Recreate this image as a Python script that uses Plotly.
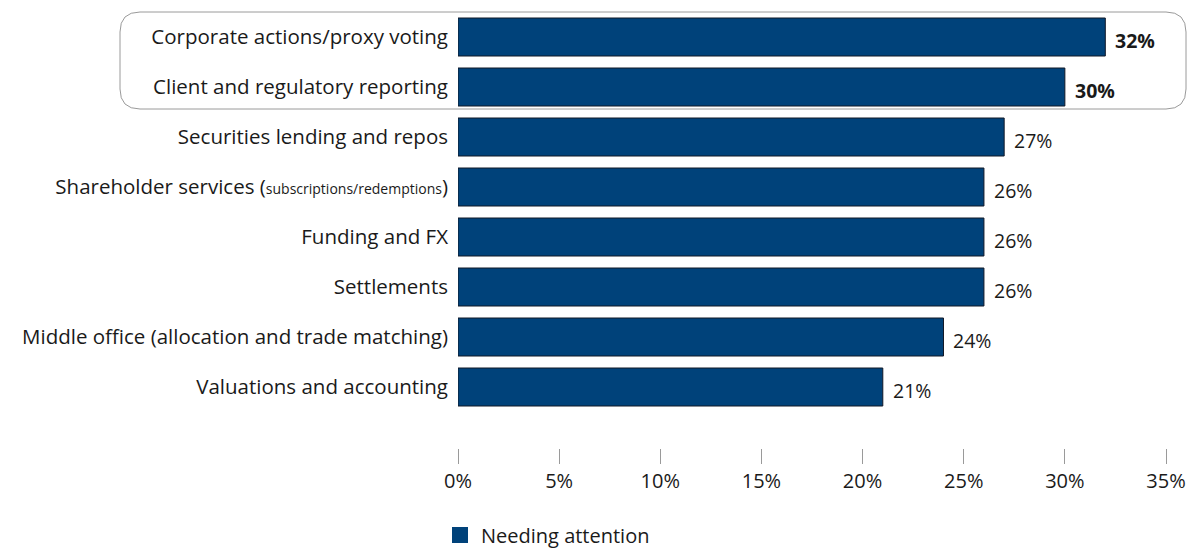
import plotly.graph_objects as go

categories = [
    "Corporate actions/proxy voting",
    "Client and regulatory reporting",
    "Securities lending and repos",
    "Shareholder services (subscriptions/redemptions)",
    "Funding and FX",
    "Settlements",
    "Middle office (allocation and trade matching)",
    "Valuations and accounting",
]
tick_labels = [
    "Corporate actions/proxy voting",
    "Client and regulatory reporting",
    "Securities lending and repos",
    "Shareholder services (<span style=\"font-size:14px\">subscriptions/redemptions</span>)",
    "Funding and FX",
    "Settlements",
    "Middle office (allocation and trade matching)",
    "Valuations and accounting",
]
values = [32, 30, 27, 26, 26, 26, 24, 21]
highlighted = [True, True, False, False, False, False, False, False]
series_name = "Needing attention"
x_ticks = [0, 5, 10, 15, 20, 25, 30, 35]
x_tick_labels = ["0%", "5%", "10%", "15%", "20%", "25%", "30%", "35%"]

BAR_COLOR = "#00427a"
FONT = "Open Sans"
W, H = 1188, 548
ML, MR, MT, MB = 458, 22, 12, 100

fig = go.Figure()
fig.add_trace(go.Bar(
    x=values, y=categories, orientation="h",
    marker=dict(color=BAR_COLOR, line=dict(color="#111827", width=1)),
    width=0.76, showlegend=False, hoverinfo="x+y",
))
fig.add_trace(go.Scatter(
    x=[None], y=[None], mode="markers", name=series_name,
    marker=dict(symbol="square", size=22, color=BAR_COLOR),
    showlegend=True,
))

for c, v, hl in zip(categories, values, highlighted):
    txt = f"<b>{v}%</b>" if hl else f"{v}%"
    fig.add_annotation(x=v, y=c, text=txt, showarrow=False, xanchor="left",
                       xshift=8, yshift=-3, font=dict(family=FONT, size=19.5, color="#1a1a1a"))

# rounded highlight box (pixel geometry converted to paper coords)
pw, ph = W - ML - MR, H - MT - MB
def px(x):
    return (x - ML) / pw
def py(y):
    return 1 - (y - MT) / ph
x0, x1, y0, y1, r = 120, 1186, 12, 109, 20
path = (f"M {px(x0 + r)},{py(y0)} L {px(x1 - r)},{py(y0)} "
        f"Q {px(x1)},{py(y0)} {px(x1)},{py(y0 + r)} "
        f"L {px(x1)},{py(y1 - r)} Q {px(x1)},{py(y1)} {px(x1 - r)},{py(y1)} "
        f"L {px(x0 + r)},{py(y1)} Q {px(x0)},{py(y1)} {px(x0)},{py(y1 - r)} "
        f"L {px(x0)},{py(y0 + r)} Q {px(x0)},{py(y0)} {px(x0 + r)},{py(y0)} Z")
fig.add_shape(type="path", path=path, xref="paper", yref="paper",
              line=dict(color="#9a9a9a", width=1), layer="below")

fig.update_layout(
    width=W, height=H,
    margin=dict(l=ML, r=MR, t=MT, b=MB, autoexpand=False),
    plot_bgcolor="white", paper_bgcolor="white",
    font=dict(family=FONT, size=20, color="#1a1a1a"),
    xaxis=dict(range=[0, 35], tickvals=x_ticks, ticktext=x_tick_labels,
               showgrid=False, zeroline=False, showline=False, automargin=False,
               ticks="outside", ticklen=15, tickwidth=1, tickcolor="#9a9a9a",
               ticklabelstandoff=0, tickfont=dict(size=20, family=FONT)),
    yaxis=dict(type="category", categoryorder="array", categoryarray=categories,
               tickvals=categories, ticktext=tick_labels, automargin=False,
               range=[8.22, -0.5], showgrid=False, zeroline=False, showline=False,
               ticks="", ticklabelstandoff=9, tickfont=dict(size=20.5, family=FONT)),
    legend=dict(x=(439 - ML) / pw, xanchor="left", y=-(535 - (H - MB)) / ph,
                yanchor="middle", font=dict(size=20, family=FONT),
                itemwidth=32, bgcolor="rgba(0,0,0,0)"),
    showlegend=True,
)

fig.write_html("out.html")
